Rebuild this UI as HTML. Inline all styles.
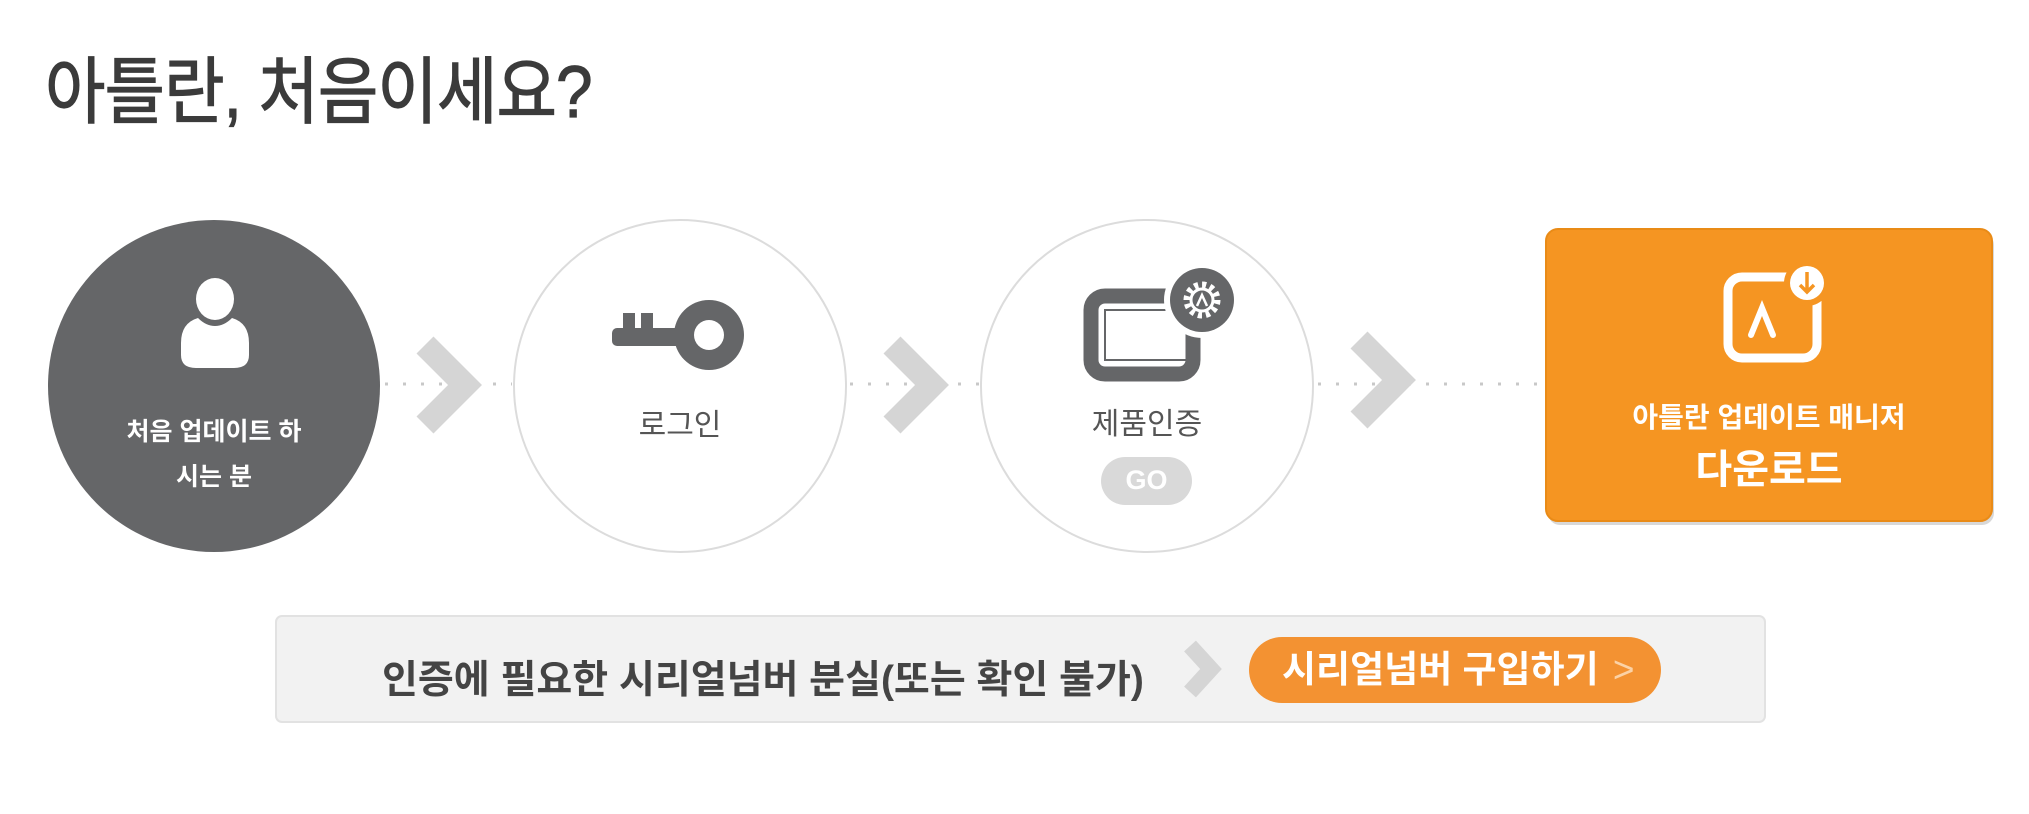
<!DOCTYPE html>
<html><head><meta charset="utf-8"><style>
html,body{margin:0;padding:0;background:#fff;}
body{width:2029px;height:814px;position:relative;overflow:hidden;font-family:"Liberation Sans","Noto Sans CJK KR",sans-serif;}
.t{position:absolute;white-space:nowrap;line-height:1;}
</style></head><body>
<svg width="2029" height="814" style="position:absolute;left:0;top:0">
  <g stroke="#c8c8c8" stroke-width="3" stroke-dasharray="3 15">
    <line x1="385" y1="384" x2="512" y2="384"/>
    <line x1="850" y1="384" x2="980" y2="384"/>
    <line x1="1318" y1="384" x2="1545" y2="384"/>
  </g>
  <g fill="none" stroke="#d5d5d5" stroke-width="24" stroke-linejoin="miter">
    <polyline points="425,345 465,385 425,425"/>
    <polyline points="892,345 932,385 892,425"/>
    <polyline points="1359,340 1399,380 1359,420"/>
  </g>
  <circle cx="214" cy="386" r="166" fill="#656668"/>
  <circle cx="680" cy="386" r="166" fill="#fff" stroke="#dcdcdc" stroke-width="2"/>
  <circle cx="1147" cy="386" r="166" fill="#fff" stroke="#dcdcdc" stroke-width="2"/>
  <ellipse cx="215" cy="299" rx="19" ry="21" fill="#fff"/>
  <path d="M198,318 Q181,323 181,343 L181,355 Q181,368 196,368 L234,368 Q249,368 249,355 L249,343 Q249,323 232,318 Q224,326 215,326 Q206,326 198,318Z" fill="#fff"/>
  <g fill="#656668">
    <circle cx="709" cy="335" r="35"/>
    <rect x="612" y="328" width="80" height="18" rx="5"/>
    <rect x="623" y="313" width="12" height="20"/>
    <rect x="641" y="313" width="12" height="20"/>
  </g>
  <circle cx="709" cy="335" r="15" fill="#fff"/>
  <rect x="1091" y="296" width="102" height="78" rx="14" fill="none" stroke="#656668" stroke-width="15"/>
  <rect x="1105" y="310" width="84" height="50" fill="none" stroke="#656668" stroke-width="2"/>
  <circle cx="1202" cy="300" r="38" fill="#fff"/>
  <circle cx="1202" cy="300" r="32" fill="#656668"/>
  <circle cx="1202" cy="300" r="15" fill="none" stroke="#fff" stroke-width="7" stroke-dasharray="4 3.85"/>
  <circle cx="1202" cy="300" r="11" fill="none" stroke="#fff" stroke-width="3"/>
  <polyline points="1197,306 1202,295 1207,306" fill="none" stroke="#fff" stroke-width="2.5"/>
  <rect x="1101" y="457" width="91" height="48" rx="24" fill="#d9d9d9"/>
  <rect x="1548" y="233" width="446" height="292" rx="12" fill="#d8d8d8"/>
  <rect x="1546" y="229" width="446" height="292" rx="12" fill="#f59522" stroke="#e98b17" stroke-width="2"/>
  <rect x="1728" y="277" width="89" height="81" rx="14" fill="none" stroke="#fff" stroke-width="9"/>
  <circle cx="1807" cy="283" r="23" fill="#f59522"/>
  <circle cx="1807" cy="283" r="17" fill="#fff"/>
  <path d="M1807,272 L1807,291 M1800,285 L1807,292 L1814,285" fill="none" stroke="#f59522" stroke-width="3.5"/>
  <polyline points="1751,335 1762,308 1773,335" fill="none" stroke="#fff" stroke-width="6" stroke-linecap="round"/>
  <rect x="276" y="616" width="1489" height="106" rx="6" fill="#f2f2f2" stroke="#e2e2e2" stroke-width="2"/>
  <polyline points="1190,646 1211,669 1190,692" fill="none" stroke="#d5d5d5" stroke-width="16"/>
  <rect x="1249" y="637" width="412" height="66" rx="33" fill="#f39232"/>
</svg>
<div class="t" style="left:45px;top:56px;font-size:73px;color:#3b3b3b;letter-spacing:-1px;-webkit-text-stroke:1.2px #3b3b3b;transform:scaleX(0.9);transform-origin:0 0;">아틀란, 처음이세요?</div>
<div class="t" style="left:48px;width:332px;text-align:center;top:420px;font-size:25px;color:#fff;font-weight:bold;">처음 업데이트 하</div>
<div class="t" style="left:48px;width:332px;text-align:center;top:465px;font-size:25px;color:#fff;font-weight:bold;">시는 분</div>
<div class="t" style="left:514px;width:332px;text-align:center;top:411px;font-size:30px;color:#555;">로그인</div>
<div class="t" style="left:981px;width:332px;text-align:center;top:410px;font-size:30px;color:#555;">제품인증</div>
<div class="t" style="left:1101px;width:91px;text-align:center;top:467px;font-size:27px;color:#fff;font-weight:bold;">GO</div>
<div class="t" style="left:1546px;width:446px;text-align:center;top:404px;font-size:28px;color:#fff;font-weight:bold;">아틀란 업데이트 매니저</div>
<div class="t" style="left:1546px;width:446px;text-align:center;top:450px;font-size:40px;color:#fff;font-weight:bold;">다운로드</div>
<div class="t" style="left:382px;top:661px;font-size:39px;color:#444;font-weight:bold;letter-spacing:0px;">인증에 필요한 시리얼넘버 분실(또는 확인 불가)</div>
<div class="t" style="left:1282px;top:651px;font-size:37px;color:#fff;font-weight:bold;">시리얼넘버 구입하기 <span style="font-weight:normal;color:#fbd2a6;margin-left:4px">&gt;</span></div>
</body></html>
